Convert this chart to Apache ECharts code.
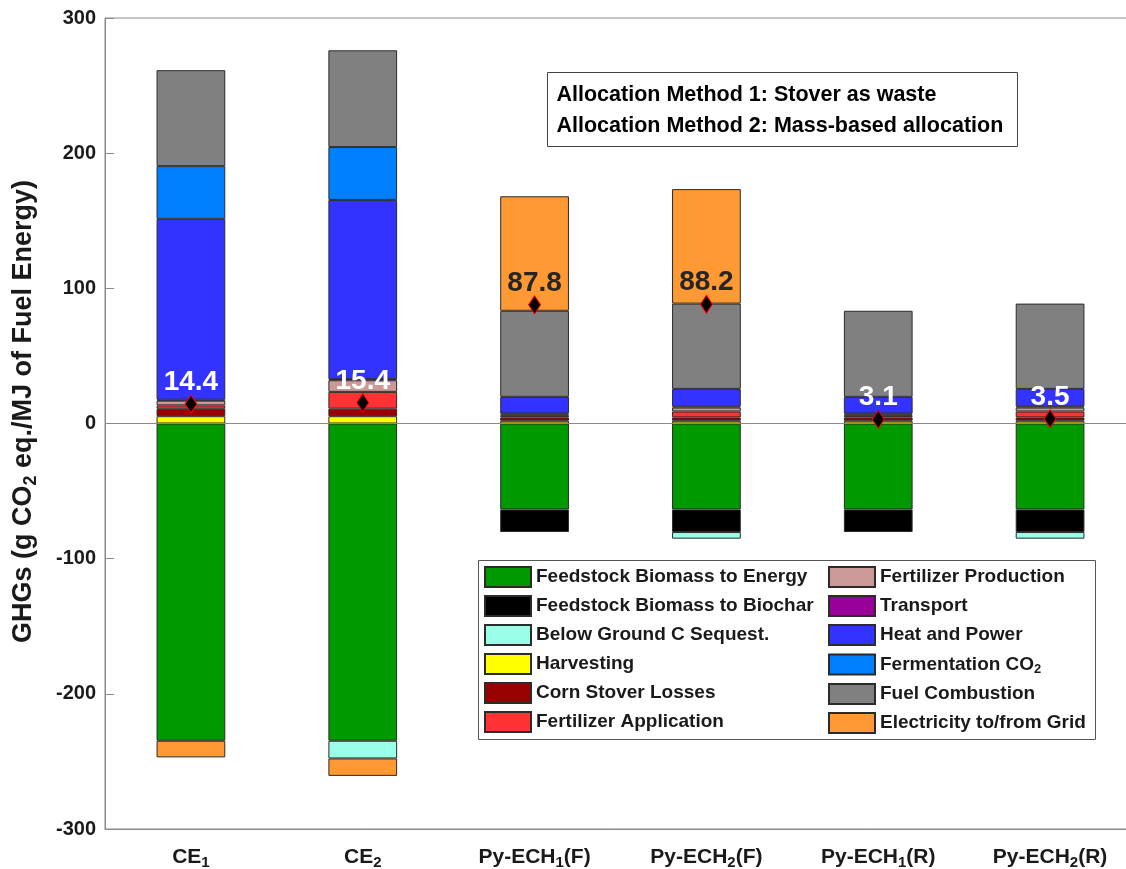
<!DOCTYPE html>
<html>
<head>
<meta charset="utf-8">
<script src="https://cdn.jsdelivr.net/npm/echarts@6/dist/echarts.min.js"></script>
<style>
  html, body { margin: 0; padding: 0; background: #fff; }
  #chart { width: 1126px; height: 869px; }
</style>
</head>
<body>
<div id="chart"></div>
<script>
// Pathway categories (digits after ECH / CE are drawn as subscripts)
const categories = ['CE1', 'CE2', 'Py-ECH1(F)', 'Py-ECH2(F)', 'Py-ECH1(R)', 'Py-ECH2(R)'];

// Life-cycle GHG contributions, g CO2 eq./MJ of fuel energy (null = not present)
const feedstockToEnergy  = [-234.7, -234.7, -63.6, -63.6, -63.6, -63.6];
const feedstockToBiochar = [null, null, -16.7, -16.7, -16.7, -16.7];
const belowGroundC       = [null, -13.1, null, -4.9, null, -4.9];
const harvesting         = [5.4, 5.4, 2.0, 2.0, 2.0, 2.0];
const stoverLosses       = [5.5, 5.6, 2.5, 2.5, 2.5, 2.5];
const fertApplication    = [2.5, 12.4, 1.2, 4.4, 1.2, 4.4];
const fertProduction     = [3.5, 8.6, 1.0, 2.9, 1.0, 2.9];
const transport          = [0.7, 0.8, 0.7, 0.9, 0.7, 0.9];
const heatAndPower       = [133.8, 132.6, 12.3, 12.9, 12.3, 12.9];
const fermentationCO2    = [39.0, 39.1, null, null, null, null];
const fuelCombustion     = [71.0, 71.6, 63.7, 63.1, 63.7, 63.1];
const electricityGrid    = [-12.3, -12.9, 84.7, 84.7, null, null];

// Net life-cycle emissions per pathway
const netEmissions = [14.4, 15.4, 87.8, 88.2, 3.1, 3.5];

// Y axis ticks
const yMin = -300, yMax = 300, yStep = 100;

const seriesDefs = [
  { name: 'Feedstock Biomass to Energy',  data: feedstockToEnergy,  color: '#009900' },
  { name: 'Feedstock Biomass to Biochar', data: feedstockToBiochar, color: '#000000' },
  { name: 'Below Ground C Sequest.',      data: belowGroundC,       color: '#99FFE6' },
  { name: 'Harvesting',                   data: harvesting,         color: '#FFFF00' },
  { name: 'Corn Stover Losses',           data: stoverLosses,       color: '#990000' },
  { name: 'Fertilizer Application',       data: fertApplication,    color: '#FF3333' },
  { name: 'Fertilizer Production',        data: fertProduction,     color: '#CC9999' },
  { name: 'Transport',                    data: transport,          color: '#990099' },
  { name: 'Heat and Power',               data: heatAndPower,       color: '#3333FF' },
  { name: 'Fermentation CO2',             data: fermentationCO2,    color: '#0080FF' },
  { name: 'Fuel Combustion',              data: fuelCombustion,     color: '#808080' },
  { name: 'Electricity to/from Grid',     data: electricityGrid,    color: '#FF9933' }
];

const FONT = '"Liberation Sans", Arial, Helvetica, sans-serif';
const TEXT = '#1a1a1a';
const AXIS = '#8a8a8a';

function richPair(size, subSize, drop, lineHeight) {
  return {
    a: { fontFamily: FONT, fontWeight: 'bold', fontSize: size, lineHeight: lineHeight, color: TEXT },
    s: { fontFamily: FONT, fontWeight: 'bold', fontSize: subSize, lineHeight: lineHeight, color: TEXT, padding: [drop, 0, 0, 0] }
  };
}

function subscriptCO2(name) {
  return name.indexOf('CO2') >= 0 ? '{a|' + name.replace('CO2', 'CO}{s|2}{a|') + '}' : '{a|' + name + '}';
}

const chart = echarts.init(document.getElementById('chart'), null, { renderer: 'canvas' });

const barSeries = seriesDefs.map((d, i) => ({
  name: d.name,
  type: 'bar',
  stack: 'ghg',
  barWidth: '40%',
  data: d.data,
  itemStyle: { color: d.color, borderColor: '#2b2b2b', borderWidth: 1 },
  emphasis: { disabled: true },
  markLine: i === 0 ? {
    silent: true,
    symbol: 'none',
    label: { show: false },
    lineStyle: { color: AXIS, width: 1, type: 'solid' },
    data: [{ yAxis: 0 }]
  } : undefined
}));

const netSeries = {
  name: 'Net',
  type: 'scatter',
  z: 10,
  symbol: 'diamond',
  symbolSize: [12, 18],
  itemStyle: { color: '#000', borderColor: '#ff0000', borderWidth: 1, opacity: 1 },
  emphasis: { disabled: true },
  data: netEmissions.map((v, i) => ({
    value: v,
    label: { color: categories[i].indexOf('(F)') >= 0 ? '#262626' : '#ffffff' }
  })),
  label: {
    show: true,
    position: 'top',
    distance: -2,
    opacity: 1,
    textBorderWidth: 0,
    fontFamily: FONT,
    fontWeight: 'bold',
    fontSize: 28,
    lineHeight: 28,
    formatter: p => p.value.toFixed(1)
  }
};

const legendCommon = {
  orient: 'vertical',
  z: 8,
  padding: 0,
  itemWidth: 46,
  itemHeight: 20,
  itemGap: 7,
  icon: 'rect',
  selectedMode: false,
  formatter: subscriptCO2,
  textStyle: { rich: richPair(19, 13, 10, 22) }
};

const option = {
  animation: false,
  backgroundColor: '#fff',
  grid: {
    left: 105, top: 18, width: 1031, bottom: 40,
    outerBoundsMode: 'none',
    containLabel: false,
    show: true, borderColor: AXIS, borderWidth: 1, backgroundColor: 'transparent'
  },
  xAxis: {
    type: 'category',
    data: categories,
    position: 'bottom',
    axisLine: { onZero: false, lineStyle: { color: AXIS } },
    axisTick: { inside: true, alignWithLabel: true, length: 9, lineStyle: { color: AXIS } },
    axisLabel: {
      margin: 15,
      formatter: v => v.replace(/^(CE|Py-ECH)(\d)(.*)$/, (m, a, b, c) => '{a|' + a + '}{s|' + b + '}' + (c ? '{a|' + c + '}' : '')),
      rich: richPair(21, 15, 12, 26)
    },
    splitLine: { show: false }
  },
  yAxis: [{
    type: 'value',
    min: yMin, max: yMax, interval: yStep,
    axisLine: { show: true, lineStyle: { color: AXIS } },
    axisTick: { show: true, inside: true, length: 9, lineStyle: { color: AXIS } },
    axisLabel: { margin: 9, fontFamily: FONT, fontWeight: 'bold', fontSize: 20, color: TEXT },
    splitLine: { show: false },
    name: '{a|GHGs (g CO}{s|2}{a| eq./MJ of Fuel Energy)}',
    nameLocation: 'middle',
    nameRotate: 90,
    nameGap: 66,
    nameTextStyle: { padding: [0, 0, 0, 24], rich: richPair(27, 18, 14, 30) }
  }, {
    type: 'value',
    position: 'right',
    min: yMin, max: yMax, interval: yStep,
    axisLine: { show: false },
    axisTick: { show: true, inside: true, length: 10, lineStyle: { color: AXIS } },
    axisLabel: { show: false },
    splitLine: { show: false }
  }],
  legend: [
    Object.assign({}, legendCommon, { left: 484, top: 566, data: seriesDefs.slice(0, 6).map(d => d.name) }),
    Object.assign({}, legendCommon, { left: 828, top: 566, data: seriesDefs.slice(6).map(d => d.name) })
  ],
  graphic: [
    {
      type: 'rect',
      left: 478, top: 560, z: 3,
      shape: { width: 617, height: 179 },
      style: { fill: '#fff', stroke: '#555', lineWidth: 1 }
    },
    {
      type: 'group',
      left: 547, top: 72, z: 20,
      children: [
        {
          type: 'rect',
          shape: { x: 0, y: 0, width: 470, height: 74 },
          style: { fill: '#fff', stroke: '#444', lineWidth: 1 }
        },
        {
          type: 'text',
          x: 9, y: 7,
          style: {
            text: 'Allocation Method 1: Stover as waste\nAllocation Method 2: Mass-based allocation',
            fontFamily: FONT, fontWeight: 'bold', fontSize: 21.5, lineHeight: 31, fill: '#000'
          }
        }
      ]
    }
  ],
  series: barSeries.concat([netSeries])
};

chart.setOption(option);
</script>
</body>
</html>
